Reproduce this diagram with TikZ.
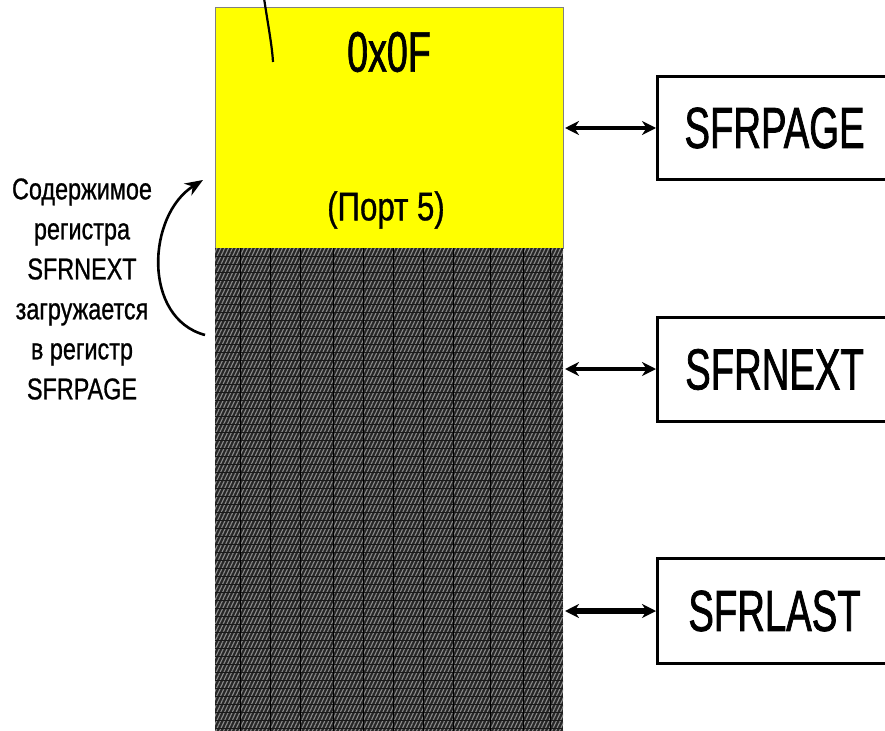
\documentclass[tikz,border=0pt]{standalone}
\usepackage{fontspec}
\setmainfont{Liberation Sans}
\newfontfamily\condfont[FakeStretch=0.66,FakeBold=1.2]{Liberation Sans}
\newfontfamily\labelfont[FakeStretch=0.78,FakeBold=0.8]{Liberation Sans}
\usetikzlibrary{arrows.meta,patterns.meta}
\definecolor{memyellow}{RGB}{255,255,0}

\tikzset{
  regbox/.style={draw, line width=3pt, anchor=north west, minimum width=234pt,
    font=\condfont\fontsize{58}{60}\selectfont},
  dbl/.style={{Stealth[length=14pt,width=14pt]}-{Stealth[length=14pt,width=14pt]}},
}

\begin{document}
\begin{tikzpicture}[x=1pt, y=-1pt]
  \useasboundingbox (0,0) rectangle (885,730);
  \clip (0,0) rectangle (885,730);

  % memory column
  \fill[memyellow, draw=black!50, line width=1pt] (215,8) rectangle (563,248);
  \fill[black!85] (215,248) rectangle (563,735);
  \fill[pattern={Lines[angle=65,distance=3.5pt,line width=1.1pt]}, pattern color=gray!90]
    (215,248) rectangle (563,735);
  \foreach \gy in {256,264,...,735}
    \draw[black!90, line width=1pt] (215,\gy) -- (563,\gy);
  \foreach \gx in {240,270,300,333,363,393,423,453,490,523,550}
    \draw[black, line width=0.8pt] (\gx,248) -- (\gx,735);

  \node[font=\condfont\fontsize{57}{58}\selectfont] (hexval) at (389,52) {0x0F};
  \node[font=\labelfont\fontsize{40}{41}\selectfont] (port) at (386,210) {(Порт 5)};

  \draw[line width=2.2pt] (264,-2) .. controls (268,25) and (272,45) .. (273,62);

  % registers
  \node[regbox, minimum height=103pt] (sfrpage) at (656,75) {SFRPAGE};
  \node[regbox, minimum height=104pt] (sfrnext) at (656,316) {SFRNEXT};
  \node[regbox, minimum height=105pt] (sfrlast) at (656,557) {SFRLAST};

  \coordinate (pgport) at (565,128);
  \coordinate (nxport) at (565,369);
  \coordinate (lsport) at (565,611);

  \draw[dbl, line width=3.5pt] (pgport) -- (sfrpage.west |- pgport);
  \draw[dbl, line width=4pt] (nxport) -- (sfrnext.west |- nxport);
  \draw[dbl, line width=5.5pt] (lsport) -- (sfrlast.west |- lsport);

  % left note
  \node[align=center, font=\labelfont\fontsize{30}{40}\selectfont] (note) at (82,289)
    {Содержимое\\регистра\\SFRNEXT\\загружается\\в регистр\\SFRPAGE};
  \coordinate (cvfrom) at (205,335);
  \coordinate (cvto) at (203,180);
  \draw[-{Stealth[length=18pt,width=14pt]}, line width=2.6pt]
    (cvfrom) .. controls (142,318) and (147,215) .. (cvto);
\end{tikzpicture}
\end{document}
